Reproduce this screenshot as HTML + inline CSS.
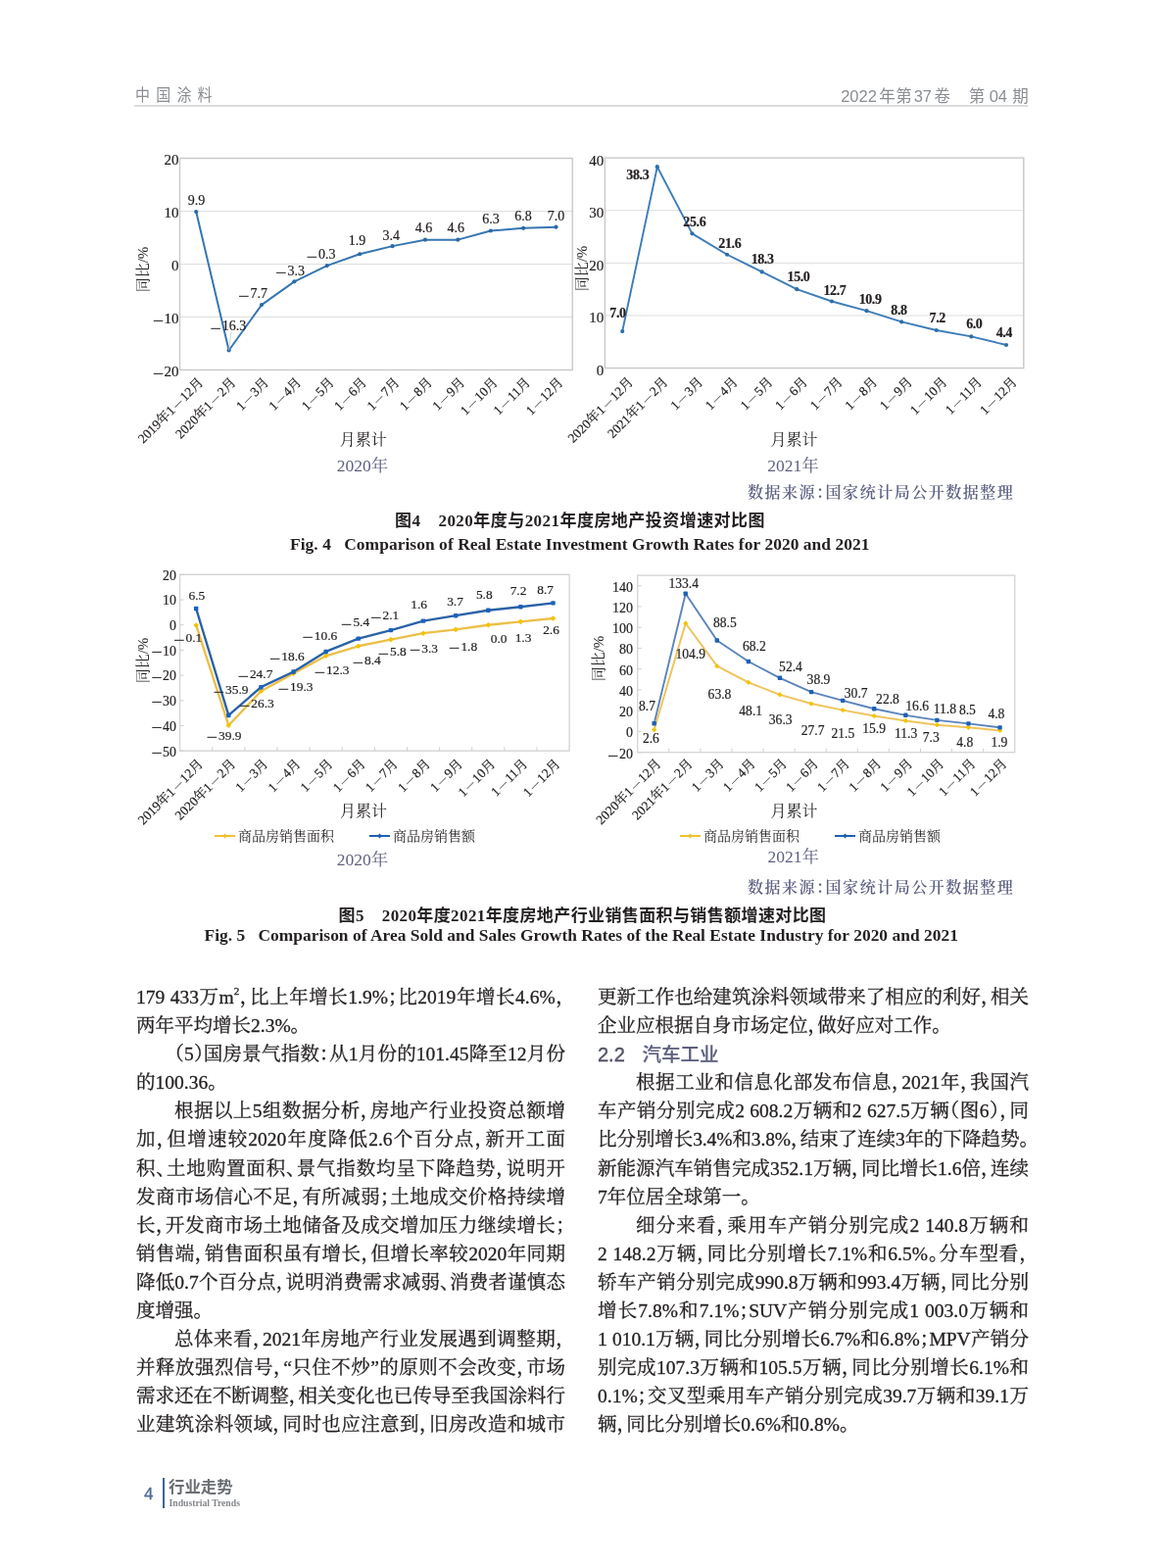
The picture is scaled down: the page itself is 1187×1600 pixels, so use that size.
<!DOCTYPE html>
<html lang="zh-CN"><head><meta charset="utf-8"><title>中国涂料 2022年第37卷 第04期</title>
<style>
html,body{margin:0;padding:0;background:#fff;}
body{width:1187px;height:1600px;position:relative;overflow:hidden;}
.abs{position:absolute;}
.hdr{font-family:'Liberation Sans','Noto Sans CJK SC',sans-serif;color:#8a8e93;white-space:nowrap;}
.hdr .d{font-family:'Liberation Sans',sans-serif;}
#hl{left:137px;top:107.4px;width:912px;height:1.7px;background:#dcdcdc;}
.cap1{font-family:'Liberation Serif','Noto Sans CJK SC',sans-serif;font-weight:bold;font-size:17px;color:#231f20;white-space:nowrap;}
.cap2{font-family:'Liberation Serif',serif;font-weight:bold;font-size:17.4px;color:#231f20;white-space:nowrap;transform:scaleY(0.94);transform-origin:0 70%;}
.src{font-family:'Liberation Serif','Noto Serif CJK SC',serif;font-size:16px;font-weight:600;color:#5f6282;white-space:nowrap;letter-spacing:1.52px;font-feature-settings:'halt';}
.col{position:absolute;top:1003px;width:438px;font-family:'Liberation Serif','Noto Serif CJK SC',serif;font-size:19.5px;line-height:29.1px;color:#231f20;font-feature-settings:'halt';-webkit-text-stroke:0.3px #231f20;}
.ln{height:29.1px;white-space:nowrap;overflow:visible;}
.ln.j{white-space:normal;}
.ln.j{text-align:justify;text-align-last:justify;}
.ln.i{text-indent:2em;}
.ln sup{font-size:11px;line-height:0;vertical-align:9px;}
.hd{font-family:'Liberation Sans','Noto Sans CJK SC',sans-serif;color:#5c5f7e;}
.hd .h{font-size:20px;position:relative;top:1px;}
.hd .h2{font-size:19.5px;font-weight:500;margin-left:17.6px;position:relative;top:0.7px;font-family:'Liberation Sans','Noto Sans CJK SC',sans-serif;-webkit-text-stroke:0.2px #5c5f7e;}
</style></head><body>
<div class="abs hdr" id="h1" style="left:138.3px;top:82.5px;font-size:17px;letter-spacing:7.1px;transform:scaleX(0.88);transform-origin:0 0;">中国涂料</div>
<div class="abs hdr" id="h2" style="left:858.2px;top:84.5px;font-size:16.5px;"><span class="d">2022</span><span style="margin-left:2.4px;letter-spacing:0.5px">年第</span><span class="d" style="margin-left:1.4px">37</span><span style="margin-left:2.4px">卷</span><span style="margin-left:18.8px">第</span><span class="d" style="margin-left:4.4px">04</span><span style="margin-left:5.3px">期</span></div>
<div id="hl" class="abs"></div>
<svg class="abs" style="left:0;top:0" width="1187" height="1000" viewBox="0 0 1187 1000">
<line x1="183.5" y1="215.5" x2="584.2" y2="215.5" stroke="#dedede" stroke-width="1"/>
<line x1="183.5" y1="269.5" x2="584.2" y2="269.5" stroke="#dedede" stroke-width="1"/>
<line x1="183.5" y1="323.5" x2="584.2" y2="323.5" stroke="#dedede" stroke-width="1"/>
<rect x="183.5" y="161.5" width="400.7" height="216" fill="none" stroke="#c8c8c8" stroke-width="1.4"/>
<text x="182.5" y="167.7" font-size="15" text-anchor="end" font-weight="normal" fill="#231f20" font-family="'Liberation Serif','Noto Serif CJK SC',serif" stroke="#231f20" stroke-width="0.2" >20</text>
<text x="182.5" y="221.7" font-size="15" text-anchor="end" font-weight="normal" fill="#231f20" font-family="'Liberation Serif','Noto Serif CJK SC',serif" stroke="#231f20" stroke-width="0.2" >10</text>
<text x="182.5" y="275.7" font-size="15" text-anchor="end" font-weight="normal" fill="#231f20" font-family="'Liberation Serif','Noto Serif CJK SC',serif" stroke="#231f20" stroke-width="0.2" >0</text>
<text x="182.5" y="329.7" font-size="15" text-anchor="end" font-weight="normal" fill="#231f20" font-family="'Liberation Serif','Noto Serif CJK SC',serif" stroke="#231f20" stroke-width="0.2" ><tspan font-size="20.5" dy="4.19" stroke="none">−</tspan><tspan dx="0.3" dy="-4.19">10</tspan></text>
<text x="182.5" y="383.7" font-size="15" text-anchor="end" font-weight="normal" fill="#231f20" font-family="'Liberation Serif','Noto Serif CJK SC',serif" stroke="#231f20" stroke-width="0.2" ><tspan font-size="20.5" dy="4.19" stroke="none">−</tspan><tspan dx="0.3" dy="-4.19">20</tspan></text>
<polyline points="200.2,216.04 233.59,357.52 266.98,311.08 300.37,287.32 333.76,271.12 367.15,259.24 400.55,251.14 433.94,244.66 467.33,244.66 500.72,235.48 534.11,232.78 567.5,231.7" fill="none" stroke="#3676b2" stroke-width="2.0" stroke-linejoin="round"/>
<circle cx="200.2" cy="216.04" r="2.1" fill="#2a6aa6"/>
<circle cx="233.59" cy="357.52" r="2.1" fill="#2a6aa6"/>
<circle cx="266.98" cy="311.08" r="2.1" fill="#2a6aa6"/>
<circle cx="300.37" cy="287.32" r="2.1" fill="#2a6aa6"/>
<circle cx="333.76" cy="271.12" r="2.1" fill="#2a6aa6"/>
<circle cx="367.15" cy="259.24" r="2.1" fill="#2a6aa6"/>
<circle cx="400.55" cy="251.14" r="2.1" fill="#2a6aa6"/>
<circle cx="433.94" cy="244.66" r="2.1" fill="#2a6aa6"/>
<circle cx="467.33" cy="244.66" r="2.1" fill="#2a6aa6"/>
<circle cx="500.72" cy="235.48" r="2.1" fill="#2a6aa6"/>
<circle cx="534.11" cy="232.78" r="2.1" fill="#2a6aa6"/>
<circle cx="567.5" cy="231.7" r="2.1" fill="#2a6aa6"/>
<text x="200.6" y="208.9" font-size="14" text-anchor="middle" font-weight="normal" fill="#231f20" font-family="'Liberation Serif','Noto Serif CJK SC',serif" stroke="#231f20" stroke-width="0.2" >9.9</text>
<text x="232.7" y="336.7" font-size="14" text-anchor="middle" font-weight="normal" fill="#231f20" font-family="'Liberation Serif','Noto Serif CJK SC',serif" stroke="#231f20" stroke-width="0.2" ><tspan font-size="20.75" dy="4.89" stroke="none">−</tspan><tspan dx="0.8" dy="-4.89">16.3</tspan></text>
<text x="257.9" y="303.8" font-size="14" text-anchor="middle" font-weight="normal" fill="#231f20" font-family="'Liberation Serif','Noto Serif CJK SC',serif" stroke="#231f20" stroke-width="0.2" ><tspan font-size="20.75" dy="4.89" stroke="none">−</tspan><tspan dx="0.8" dy="-4.89">7.7</tspan></text>
<text x="295.9" y="280.6" font-size="14" text-anchor="middle" font-weight="normal" fill="#231f20" font-family="'Liberation Serif','Noto Serif CJK SC',serif" stroke="#231f20" stroke-width="0.2" ><tspan font-size="20.75" dy="4.89" stroke="none">−</tspan><tspan dx="0.8" dy="-4.89">3.3</tspan></text>
<text x="327.6" y="263.9" font-size="14" text-anchor="middle" font-weight="normal" fill="#231f20" font-family="'Liberation Serif','Noto Serif CJK SC',serif" stroke="#231f20" stroke-width="0.2" ><tspan font-size="20.75" dy="4.89" stroke="none">−</tspan><tspan dx="0.8" dy="-4.89">0.3</tspan></text>
<text x="364.5" y="249.9" font-size="14" text-anchor="middle" font-weight="normal" fill="#231f20" font-family="'Liberation Serif','Noto Serif CJK SC',serif" stroke="#231f20" stroke-width="0.2" >1.9</text>
<text x="399.3" y="244.5" font-size="14" text-anchor="middle" font-weight="normal" fill="#231f20" font-family="'Liberation Serif','Noto Serif CJK SC',serif" stroke="#231f20" stroke-width="0.2" >3.4</text>
<text x="432.5" y="236.8" font-size="14" text-anchor="middle" font-weight="normal" fill="#231f20" font-family="'Liberation Serif','Noto Serif CJK SC',serif" stroke="#231f20" stroke-width="0.2" >4.6</text>
<text x="465.2" y="236.8" font-size="14" text-anchor="middle" font-weight="normal" fill="#231f20" font-family="'Liberation Serif','Noto Serif CJK SC',serif" stroke="#231f20" stroke-width="0.2" >4.6</text>
<text x="501" y="228.1" font-size="14" text-anchor="middle" font-weight="normal" fill="#231f20" font-family="'Liberation Serif','Noto Serif CJK SC',serif" stroke="#231f20" stroke-width="0.2" >6.3</text>
<text x="534" y="225.3" font-size="14" text-anchor="middle" font-weight="normal" fill="#231f20" font-family="'Liberation Serif','Noto Serif CJK SC',serif" stroke="#231f20" stroke-width="0.2" >6.8</text>
<text x="567.4" y="224.8" font-size="14" text-anchor="middle" font-weight="normal" fill="#231f20" font-family="'Liberation Serif','Noto Serif CJK SC',serif" stroke="#231f20" stroke-width="0.2" >7.0</text>
<line x1="233.59" y1="357.52" x2="236" y2="338" stroke="#c9c9c9" stroke-width="0.8"/>
<line x1="617.4" y1="214.72" x2="1044.8" y2="214.72" stroke="#dedede" stroke-width="1"/>
<line x1="617.4" y1="268.35" x2="1044.8" y2="268.35" stroke="#dedede" stroke-width="1"/>
<line x1="617.4" y1="321.98" x2="1044.8" y2="321.98" stroke="#dedede" stroke-width="1"/>
<rect x="617.4" y="161.1" width="427.4" height="214.5" fill="none" stroke="#c8c8c8" stroke-width="1.4"/>
<text x="616.3" y="168.5" font-size="15" text-anchor="end" font-weight="normal" fill="#231f20" font-family="'Liberation Serif','Noto Serif CJK SC',serif" stroke="#231f20" stroke-width="0.2" >40</text>
<text x="616.3" y="222.12" font-size="15" text-anchor="end" font-weight="normal" fill="#231f20" font-family="'Liberation Serif','Noto Serif CJK SC',serif" stroke="#231f20" stroke-width="0.2" >30</text>
<text x="616.3" y="275.75" font-size="15" text-anchor="end" font-weight="normal" fill="#231f20" font-family="'Liberation Serif','Noto Serif CJK SC',serif" stroke="#231f20" stroke-width="0.2" >20</text>
<text x="616.3" y="329.38" font-size="15" text-anchor="end" font-weight="normal" fill="#231f20" font-family="'Liberation Serif','Noto Serif CJK SC',serif" stroke="#231f20" stroke-width="0.2" >10</text>
<text x="616.3" y="383" font-size="15" text-anchor="end" font-weight="normal" fill="#231f20" font-family="'Liberation Serif','Noto Serif CJK SC',serif" stroke="#231f20" stroke-width="0.2" >0</text>
<polyline points="635.21,338.06 670.82,170.22 706.44,238.32 742.06,259.77 777.67,277.47 813.29,295.16 848.91,307.5 884.52,317.15 920.14,328.41 955.76,336.99 991.38,343.43 1026.99,352" fill="none" stroke="#3d7db9" stroke-width="1.9" stroke-linejoin="round"/>
<circle cx="635.21" cy="338.06" r="2.1" fill="#2f6ea8"/>
<circle cx="670.82" cy="170.22" r="2.1" fill="#2f6ea8"/>
<circle cx="706.44" cy="238.32" r="2.1" fill="#2f6ea8"/>
<circle cx="742.06" cy="259.77" r="2.1" fill="#2f6ea8"/>
<circle cx="777.67" cy="277.47" r="2.1" fill="#2f6ea8"/>
<circle cx="813.29" cy="295.16" r="2.1" fill="#2f6ea8"/>
<circle cx="848.91" cy="307.5" r="2.1" fill="#2f6ea8"/>
<circle cx="884.52" cy="317.15" r="2.1" fill="#2f6ea8"/>
<circle cx="920.14" cy="328.41" r="2.1" fill="#2f6ea8"/>
<circle cx="955.76" cy="336.99" r="2.1" fill="#2f6ea8"/>
<circle cx="991.38" cy="343.43" r="2.1" fill="#2f6ea8"/>
<circle cx="1026.99" cy="352" r="2.1" fill="#2f6ea8"/>
<text x="630.5" y="323.8" font-size="14" text-anchor="middle" font-weight="bold" fill="#231f20" font-family="'Liberation Serif','Noto Serif CJK SC',serif" stroke="#231f20" stroke-width="0.2" letter-spacing="-0.4">7.0</text>
<text x="650.8" y="182.7" font-size="14" text-anchor="middle" font-weight="bold" fill="#231f20" font-family="'Liberation Serif','Noto Serif CJK SC',serif" stroke="#231f20" stroke-width="0.2" letter-spacing="-0.4">38.3</text>
<text x="708.8" y="231.2" font-size="14" text-anchor="middle" font-weight="bold" fill="#231f20" font-family="'Liberation Serif','Noto Serif CJK SC',serif" stroke="#231f20" stroke-width="0.2" letter-spacing="-0.4">25.6</text>
<text x="744.8" y="252.5" font-size="14" text-anchor="middle" font-weight="bold" fill="#231f20" font-family="'Liberation Serif','Noto Serif CJK SC',serif" stroke="#231f20" stroke-width="0.2" letter-spacing="-0.4">21.6</text>
<text x="778.1" y="268.6" font-size="14" text-anchor="middle" font-weight="bold" fill="#231f20" font-family="'Liberation Serif','Noto Serif CJK SC',serif" stroke="#231f20" stroke-width="0.2" letter-spacing="-0.4">18.3</text>
<text x="815" y="286.9" font-size="14" text-anchor="middle" font-weight="bold" fill="#231f20" font-family="'Liberation Serif','Noto Serif CJK SC',serif" stroke="#231f20" stroke-width="0.2" letter-spacing="-0.4">15.0</text>
<text x="851.9" y="300.6" font-size="14" text-anchor="middle" font-weight="bold" fill="#231f20" font-family="'Liberation Serif','Noto Serif CJK SC',serif" stroke="#231f20" stroke-width="0.2" letter-spacing="-0.4">12.7</text>
<text x="888.1" y="309.7" font-size="14" text-anchor="middle" font-weight="bold" fill="#231f20" font-family="'Liberation Serif','Noto Serif CJK SC',serif" stroke="#231f20" stroke-width="0.2" letter-spacing="-0.4">10.9</text>
<text x="917.5" y="321.2" font-size="14" text-anchor="middle" font-weight="bold" fill="#231f20" font-family="'Liberation Serif','Noto Serif CJK SC',serif" stroke="#231f20" stroke-width="0.2" letter-spacing="-0.4">8.8</text>
<text x="956.7" y="329.3" font-size="14" text-anchor="middle" font-weight="bold" fill="#231f20" font-family="'Liberation Serif','Noto Serif CJK SC',serif" stroke="#231f20" stroke-width="0.2" letter-spacing="-0.4">7.2</text>
<text x="994.3" y="334.9" font-size="14" text-anchor="middle" font-weight="bold" fill="#231f20" font-family="'Liberation Serif','Noto Serif CJK SC',serif" stroke="#231f20" stroke-width="0.2" letter-spacing="-0.4">6.0</text>
<text x="1024.8" y="344" font-size="14" text-anchor="middle" font-weight="bold" fill="#231f20" font-family="'Liberation Serif','Noto Serif CJK SC',serif" stroke="#231f20" stroke-width="0.2" letter-spacing="-0.4">4.4</text>
<rect x="183.6" y="586.3" width="397.5" height="179.9" fill="none" stroke="#d6d6d6" stroke-width="1.4"/>
<line x1="216.72" y1="766.2" x2="216.72" y2="762.2" stroke="#d0d0d0" stroke-width="1"/>
<line x1="249.85" y1="766.2" x2="249.85" y2="762.2" stroke="#d0d0d0" stroke-width="1"/>
<line x1="282.98" y1="766.2" x2="282.98" y2="762.2" stroke="#d0d0d0" stroke-width="1"/>
<line x1="316.1" y1="766.2" x2="316.1" y2="762.2" stroke="#d0d0d0" stroke-width="1"/>
<line x1="349.23" y1="766.2" x2="349.23" y2="762.2" stroke="#d0d0d0" stroke-width="1"/>
<line x1="382.35" y1="766.2" x2="382.35" y2="762.2" stroke="#d0d0d0" stroke-width="1"/>
<line x1="415.48" y1="766.2" x2="415.48" y2="762.2" stroke="#d0d0d0" stroke-width="1"/>
<line x1="448.6" y1="766.2" x2="448.6" y2="762.2" stroke="#d0d0d0" stroke-width="1"/>
<line x1="481.73" y1="766.2" x2="481.73" y2="762.2" stroke="#d0d0d0" stroke-width="1"/>
<line x1="514.85" y1="766.2" x2="514.85" y2="762.2" stroke="#d0d0d0" stroke-width="1"/>
<line x1="547.98" y1="766.2" x2="547.98" y2="762.2" stroke="#d0d0d0" stroke-width="1"/>
<line x1="183.6" y1="586.3" x2="187.6" y2="586.3" stroke="#d0d0d0" stroke-width="1"/>
<line x1="183.6" y1="612" x2="187.6" y2="612" stroke="#d0d0d0" stroke-width="1"/>
<line x1="183.6" y1="637.7" x2="187.6" y2="637.7" stroke="#d0d0d0" stroke-width="1"/>
<line x1="183.6" y1="663.4" x2="187.6" y2="663.4" stroke="#d0d0d0" stroke-width="1"/>
<line x1="183.6" y1="689.1" x2="187.6" y2="689.1" stroke="#d0d0d0" stroke-width="1"/>
<line x1="183.6" y1="714.8" x2="187.6" y2="714.8" stroke="#d0d0d0" stroke-width="1"/>
<line x1="183.6" y1="740.5" x2="187.6" y2="740.5" stroke="#d0d0d0" stroke-width="1"/>
<line x1="183.6" y1="766.2" x2="187.6" y2="766.2" stroke="#d0d0d0" stroke-width="1"/>
<text x="179.8" y="591.6" font-size="13.8" text-anchor="end" font-weight="normal" fill="#231f20" font-family="'Liberation Serif','Noto Serif CJK SC',serif" stroke="#231f20" stroke-width="0.2" >20</text>
<text x="179.8" y="617.3" font-size="13.8" text-anchor="end" font-weight="normal" fill="#231f20" font-family="'Liberation Serif','Noto Serif CJK SC',serif" stroke="#231f20" stroke-width="0.2" >10</text>
<text x="179.8" y="643" font-size="13.8" text-anchor="end" font-weight="normal" fill="#231f20" font-family="'Liberation Serif','Noto Serif CJK SC',serif" stroke="#231f20" stroke-width="0.2" >0</text>
<text x="179.8" y="668.7" font-size="13.8" text-anchor="end" font-weight="normal" fill="#231f20" font-family="'Liberation Serif','Noto Serif CJK SC',serif" stroke="#231f20" stroke-width="0.2" ><tspan font-size="20.5" dy="3.39" stroke="none">−</tspan><tspan dx="0.3" dy="-3.39">10</tspan></text>
<text x="179.8" y="694.4" font-size="13.8" text-anchor="end" font-weight="normal" fill="#231f20" font-family="'Liberation Serif','Noto Serif CJK SC',serif" stroke="#231f20" stroke-width="0.2" ><tspan font-size="20.5" dy="3.39" stroke="none">−</tspan><tspan dx="0.3" dy="-3.39">20</tspan></text>
<text x="179.8" y="720.1" font-size="13.8" text-anchor="end" font-weight="normal" fill="#231f20" font-family="'Liberation Serif','Noto Serif CJK SC',serif" stroke="#231f20" stroke-width="0.2" ><tspan font-size="20.5" dy="3.39" stroke="none">−</tspan><tspan dx="0.3" dy="-3.39">30</tspan></text>
<text x="179.8" y="745.8" font-size="13.8" text-anchor="end" font-weight="normal" fill="#231f20" font-family="'Liberation Serif','Noto Serif CJK SC',serif" stroke="#231f20" stroke-width="0.2" ><tspan font-size="20.5" dy="3.39" stroke="none">−</tspan><tspan dx="0.3" dy="-3.39">40</tspan></text>
<text x="179.8" y="771.5" font-size="13.8" text-anchor="end" font-weight="normal" fill="#231f20" font-family="'Liberation Serif','Noto Serif CJK SC',serif" stroke="#231f20" stroke-width="0.2" ><tspan font-size="20.5" dy="3.39" stroke="none">−</tspan><tspan dx="0.3" dy="-3.39">50</tspan></text>
<polyline points="200.16,637.96 233.29,740.24 266.41,705.29 299.54,687.3 332.66,669.31 365.79,659.29 398.91,652.61 432.04,646.18 465.16,642.33 498.29,637.7 531.41,634.36 564.54,631.02" fill="none" stroke="#ebc04a" stroke-width="2.4" stroke-linejoin="round"/>
<path d="M200.16 635.16L202.96 637.96L200.16 640.76L197.36 637.96Z" fill="#f2c300"/>
<path d="M233.29 737.44L236.09 740.24L233.29 743.04L230.49 740.24Z" fill="#f2c300"/>
<path d="M266.41 702.49L269.21 705.29L266.41 708.09L263.61 705.29Z" fill="#f2c300"/>
<path d="M299.54 684.5L302.34 687.3L299.54 690.1L296.74 687.3Z" fill="#f2c300"/>
<path d="M332.66 666.51L335.46 669.31L332.66 672.11L329.86 669.31Z" fill="#f2c300"/>
<path d="M365.79 656.49L368.59 659.29L365.79 662.09L362.99 659.29Z" fill="#f2c300"/>
<path d="M398.91 649.81L401.71 652.61L398.91 655.41L396.11 652.61Z" fill="#f2c300"/>
<path d="M432.04 643.38L434.84 646.18L432.04 648.98L429.24 646.18Z" fill="#f2c300"/>
<path d="M465.16 639.53L467.96 642.33L465.16 645.13L462.36 642.33Z" fill="#f2c300"/>
<path d="M498.29 634.9L501.09 637.7L498.29 640.5L495.49 637.7Z" fill="#f2c300"/>
<path d="M531.41 631.56L534.21 634.36L531.41 637.16L528.61 634.36Z" fill="#f2c300"/>
<path d="M564.54 628.22L567.34 631.02L564.54 633.82L561.74 631.02Z" fill="#f2c300"/>
<polyline points="200.16,621 233.29,729.96 266.41,701.18 299.54,685.5 332.66,664.94 365.79,651.58 398.91,643.1 432.04,633.59 465.16,628.19 498.29,622.79 531.41,619.2 564.54,615.34" fill="none" stroke="#2a62a6" stroke-width="2.4" stroke-linejoin="round"/>
<rect x="197.96" y="618.79" width="4.4" height="4.4" rx="0.8" fill="#1a62bc"/>
<rect x="231.09" y="727.76" width="4.4" height="4.4" rx="0.8" fill="#1a62bc"/>
<rect x="264.21" y="698.98" width="4.4" height="4.4" rx="0.8" fill="#1a62bc"/>
<rect x="297.34" y="683.3" width="4.4" height="4.4" rx="0.8" fill="#1a62bc"/>
<rect x="330.46" y="662.74" width="4.4" height="4.4" rx="0.8" fill="#1a62bc"/>
<rect x="363.59" y="649.38" width="4.4" height="4.4" rx="0.8" fill="#1a62bc"/>
<rect x="396.71" y="640.9" width="4.4" height="4.4" rx="0.8" fill="#1a62bc"/>
<rect x="429.84" y="631.39" width="4.4" height="4.4" rx="0.8" fill="#1a62bc"/>
<rect x="462.96" y="625.99" width="4.4" height="4.4" rx="0.8" fill="#1a62bc"/>
<rect x="496.09" y="620.59" width="4.4" height="4.4" rx="0.8" fill="#1a62bc"/>
<rect x="529.21" y="617" width="4.4" height="4.4" rx="0.8" fill="#1a62bc"/>
<rect x="562.34" y="613.14" width="4.4" height="4.4" rx="0.8" fill="#1a62bc"/>
<text x="200.9" y="612.3" font-size="13.4" text-anchor="middle" font-weight="normal" fill="#231f20" font-family="'Liberation Serif','Noto Serif CJK SC',serif" stroke="#231f20" stroke-width="0.2" >6.5</text>
<text x="235.5" y="708.1" font-size="13.4" text-anchor="middle" font-weight="normal" fill="#231f20" font-family="'Liberation Serif','Noto Serif CJK SC',serif" stroke="#231f20" stroke-width="0.2" ><tspan font-size="20.75" dy="4.89" stroke="none">−</tspan><tspan dx="0.8" dy="-4.89">35.9</tspan></text>
<text x="260.4" y="691.9" font-size="13.4" text-anchor="middle" font-weight="normal" fill="#231f20" font-family="'Liberation Serif','Noto Serif CJK SC',serif" stroke="#231f20" stroke-width="0.2" ><tspan font-size="20.75" dy="4.89" stroke="none">−</tspan><tspan dx="0.8" dy="-4.89">24.7</tspan></text>
<text x="292.8" y="673.8" font-size="13.4" text-anchor="middle" font-weight="normal" fill="#231f20" font-family="'Liberation Serif','Noto Serif CJK SC',serif" stroke="#231f20" stroke-width="0.2" ><tspan font-size="20.75" dy="4.89" stroke="none">−</tspan><tspan dx="0.8" dy="-4.89">18.6</tspan></text>
<text x="326.3" y="652.6" font-size="13.4" text-anchor="middle" font-weight="normal" fill="#231f20" font-family="'Liberation Serif','Noto Serif CJK SC',serif" stroke="#231f20" stroke-width="0.2" ><tspan font-size="20.75" dy="4.89" stroke="none">−</tspan><tspan dx="0.8" dy="-4.89">10.6</tspan></text>
<text x="362.5" y="638.9" font-size="13.4" text-anchor="middle" font-weight="normal" fill="#231f20" font-family="'Liberation Serif','Noto Serif CJK SC',serif" stroke="#231f20" stroke-width="0.2" ><tspan font-size="20.75" dy="4.89" stroke="none">−</tspan><tspan dx="0.8" dy="-4.89">5.4</tspan></text>
<text x="392.7" y="632.1" font-size="13.4" text-anchor="middle" font-weight="normal" fill="#231f20" font-family="'Liberation Serif','Noto Serif CJK SC',serif" stroke="#231f20" stroke-width="0.2" ><tspan font-size="20.75" dy="4.89" stroke="none">−</tspan><tspan dx="0.8" dy="-4.89">2.1</tspan></text>
<text x="427.7" y="621.4" font-size="13.4" text-anchor="middle" font-weight="normal" fill="#231f20" font-family="'Liberation Serif','Noto Serif CJK SC',serif" stroke="#231f20" stroke-width="0.2" >1.6</text>
<text x="464.5" y="618.1" font-size="13.4" text-anchor="middle" font-weight="normal" fill="#231f20" font-family="'Liberation Serif','Noto Serif CJK SC',serif" stroke="#231f20" stroke-width="0.2" >3.7</text>
<text x="494.3" y="611.1" font-size="13.4" text-anchor="middle" font-weight="normal" fill="#231f20" font-family="'Liberation Serif','Noto Serif CJK SC',serif" stroke="#231f20" stroke-width="0.2" >5.8</text>
<text x="529" y="607.3" font-size="13.4" text-anchor="middle" font-weight="normal" fill="#231f20" font-family="'Liberation Serif','Noto Serif CJK SC',serif" stroke="#231f20" stroke-width="0.2" >7.2</text>
<text x="556.7" y="606" font-size="13.4" text-anchor="middle" font-weight="normal" fill="#231f20" font-family="'Liberation Serif','Noto Serif CJK SC',serif" stroke="#231f20" stroke-width="0.2" >8.7</text>
<text x="191.6" y="654.8" font-size="13.4" text-anchor="middle" font-weight="normal" fill="#231f20" font-family="'Liberation Serif','Noto Serif CJK SC',serif" stroke="#231f20" stroke-width="0.2" ><tspan font-size="20.75" dy="4.89" stroke="none">−</tspan><tspan dx="0.8" dy="-4.89">0.1</tspan></text>
<text x="228.5" y="754.5" font-size="13.4" text-anchor="middle" font-weight="normal" fill="#231f20" font-family="'Liberation Serif','Noto Serif CJK SC',serif" stroke="#231f20" stroke-width="0.2" ><tspan font-size="20.75" dy="4.89" stroke="none">−</tspan><tspan dx="0.8" dy="-4.89">39.9</tspan></text>
<text x="261.8" y="721.9" font-size="13.4" text-anchor="middle" font-weight="normal" fill="#231f20" font-family="'Liberation Serif','Noto Serif CJK SC',serif" stroke="#231f20" stroke-width="0.2" ><tspan font-size="20.75" dy="4.89" stroke="none">−</tspan><tspan dx="0.8" dy="-4.89">26.3</tspan></text>
<text x="301.5" y="705.2" font-size="13.4" text-anchor="middle" font-weight="normal" fill="#231f20" font-family="'Liberation Serif','Noto Serif CJK SC',serif" stroke="#231f20" stroke-width="0.2" ><tspan font-size="20.75" dy="4.89" stroke="none">−</tspan><tspan dx="0.8" dy="-4.89">19.3</tspan></text>
<text x="338.5" y="687.7" font-size="13.4" text-anchor="middle" font-weight="normal" fill="#231f20" font-family="'Liberation Serif','Noto Serif CJK SC',serif" stroke="#231f20" stroke-width="0.2" ><tspan font-size="20.75" dy="4.89" stroke="none">−</tspan><tspan dx="0.8" dy="-4.89">12.3</tspan></text>
<text x="374.1" y="678.1" font-size="13.4" text-anchor="middle" font-weight="normal" fill="#231f20" font-family="'Liberation Serif','Noto Serif CJK SC',serif" stroke="#231f20" stroke-width="0.2" ><tspan font-size="20.75" dy="4.89" stroke="none">−</tspan><tspan dx="0.8" dy="-4.89">8.4</tspan></text>
<text x="400.1" y="669.1" font-size="13.4" text-anchor="middle" font-weight="normal" fill="#231f20" font-family="'Liberation Serif','Noto Serif CJK SC',serif" stroke="#231f20" stroke-width="0.2" ><tspan font-size="20.75" dy="4.89" stroke="none">−</tspan><tspan dx="0.8" dy="-4.89">5.8</tspan></text>
<text x="432.4" y="665.6" font-size="13.4" text-anchor="middle" font-weight="normal" fill="#231f20" font-family="'Liberation Serif','Noto Serif CJK SC',serif" stroke="#231f20" stroke-width="0.2" ><tspan font-size="20.75" dy="4.89" stroke="none">−</tspan><tspan dx="0.8" dy="-4.89">3.3</tspan></text>
<text x="472.5" y="663.5" font-size="13.4" text-anchor="middle" font-weight="normal" fill="#231f20" font-family="'Liberation Serif','Noto Serif CJK SC',serif" stroke="#231f20" stroke-width="0.2" ><tspan font-size="20.75" dy="4.89" stroke="none">−</tspan><tspan dx="0.8" dy="-4.89">1.8</tspan></text>
<text x="509.2" y="656.4" font-size="13.4" text-anchor="middle" font-weight="normal" fill="#231f20" font-family="'Liberation Serif','Noto Serif CJK SC',serif" stroke="#231f20" stroke-width="0.2" >0.0</text>
<text x="534" y="654.5" font-size="13.4" text-anchor="middle" font-weight="normal" fill="#231f20" font-family="'Liberation Serif','Noto Serif CJK SC',serif" stroke="#231f20" stroke-width="0.2" >1.3</text>
<text x="562.5" y="646.8" font-size="13.4" text-anchor="middle" font-weight="normal" fill="#231f20" font-family="'Liberation Serif','Noto Serif CJK SC',serif" stroke="#231f20" stroke-width="0.2" >2.6</text>
<rect x="650.7" y="587.1" width="385" height="180.6" fill="none" stroke="#d6d6d6" stroke-width="1.4"/>
<line x1="682.78" y1="767.7" x2="682.78" y2="763.7" stroke="#d0d0d0" stroke-width="1"/>
<line x1="714.87" y1="767.7" x2="714.87" y2="763.7" stroke="#d0d0d0" stroke-width="1"/>
<line x1="746.95" y1="767.7" x2="746.95" y2="763.7" stroke="#d0d0d0" stroke-width="1"/>
<line x1="779.03" y1="767.7" x2="779.03" y2="763.7" stroke="#d0d0d0" stroke-width="1"/>
<line x1="811.12" y1="767.7" x2="811.12" y2="763.7" stroke="#d0d0d0" stroke-width="1"/>
<line x1="843.2" y1="767.7" x2="843.2" y2="763.7" stroke="#d0d0d0" stroke-width="1"/>
<line x1="875.28" y1="767.7" x2="875.28" y2="763.7" stroke="#d0d0d0" stroke-width="1"/>
<line x1="907.37" y1="767.7" x2="907.37" y2="763.7" stroke="#d0d0d0" stroke-width="1"/>
<line x1="939.45" y1="767.7" x2="939.45" y2="763.7" stroke="#d0d0d0" stroke-width="1"/>
<line x1="971.53" y1="767.7" x2="971.53" y2="763.7" stroke="#d0d0d0" stroke-width="1"/>
<line x1="1003.62" y1="767.7" x2="1003.62" y2="763.7" stroke="#d0d0d0" stroke-width="1"/>
<line x1="650.7" y1="597.72" x2="654.7" y2="597.72" stroke="#d0d0d0" stroke-width="1"/>
<line x1="650.7" y1="618.97" x2="654.7" y2="618.97" stroke="#d0d0d0" stroke-width="1"/>
<line x1="650.7" y1="640.22" x2="654.7" y2="640.22" stroke="#d0d0d0" stroke-width="1"/>
<line x1="650.7" y1="661.46" x2="654.7" y2="661.46" stroke="#d0d0d0" stroke-width="1"/>
<line x1="650.7" y1="682.71" x2="654.7" y2="682.71" stroke="#d0d0d0" stroke-width="1"/>
<line x1="650.7" y1="703.96" x2="654.7" y2="703.96" stroke="#d0d0d0" stroke-width="1"/>
<line x1="650.7" y1="725.21" x2="654.7" y2="725.21" stroke="#d0d0d0" stroke-width="1"/>
<line x1="650.7" y1="746.45" x2="654.7" y2="746.45" stroke="#d0d0d0" stroke-width="1"/>
<line x1="650.7" y1="767.7" x2="654.7" y2="767.7" stroke="#d0d0d0" stroke-width="1"/>
<text x="645.9" y="603.62" font-size="14" text-anchor="end" font-weight="normal" fill="#231f20" font-family="'Liberation Serif','Noto Serif CJK SC',serif" stroke="#231f20" stroke-width="0.2" >140</text>
<text x="645.9" y="624.87" font-size="14" text-anchor="end" font-weight="normal" fill="#231f20" font-family="'Liberation Serif','Noto Serif CJK SC',serif" stroke="#231f20" stroke-width="0.2" >120</text>
<text x="645.9" y="646.12" font-size="14" text-anchor="end" font-weight="normal" fill="#231f20" font-family="'Liberation Serif','Noto Serif CJK SC',serif" stroke="#231f20" stroke-width="0.2" >100</text>
<text x="645.9" y="667.36" font-size="14" text-anchor="end" font-weight="normal" fill="#231f20" font-family="'Liberation Serif','Noto Serif CJK SC',serif" stroke="#231f20" stroke-width="0.2" >80</text>
<text x="645.9" y="688.61" font-size="14" text-anchor="end" font-weight="normal" fill="#231f20" font-family="'Liberation Serif','Noto Serif CJK SC',serif" stroke="#231f20" stroke-width="0.2" >60</text>
<text x="645.9" y="709.86" font-size="14" text-anchor="end" font-weight="normal" fill="#231f20" font-family="'Liberation Serif','Noto Serif CJK SC',serif" stroke="#231f20" stroke-width="0.2" >40</text>
<text x="645.9" y="731.11" font-size="14" text-anchor="end" font-weight="normal" fill="#231f20" font-family="'Liberation Serif','Noto Serif CJK SC',serif" stroke="#231f20" stroke-width="0.2" >20</text>
<text x="645.9" y="752.35" font-size="14" text-anchor="end" font-weight="normal" fill="#231f20" font-family="'Liberation Serif','Noto Serif CJK SC',serif" stroke="#231f20" stroke-width="0.2" >0</text>
<text x="645.9" y="773.6" font-size="14" text-anchor="end" font-weight="normal" fill="#231f20" font-family="'Liberation Serif','Noto Serif CJK SC',serif" stroke="#231f20" stroke-width="0.2" ><tspan font-size="20.5" dy="4.19" stroke="none">−</tspan><tspan dx="0.3" dy="-4.19">20</tspan></text>
<polyline points="667.64,744.69 699.73,636.01 731.81,679.67 763.89,696.35 795.98,708.89 828.06,718.03 860.14,724.61 892.23,730.56 924.31,735.45 956.39,739.7 988.48,742.35 1020.56,745.43" fill="none" stroke="#eec45c" stroke-width="2.0" stroke-linejoin="round"/>
<path d="M667.64 742.09L670.24 744.69L667.64 747.29L665.04 744.69Z" fill="#f2c300"/>
<path d="M699.73 633.41L702.33 636.01L699.73 638.61L697.12 636.01Z" fill="#f2c300"/>
<path d="M731.81 677.07L734.41 679.67L731.81 682.27L729.21 679.67Z" fill="#f2c300"/>
<path d="M763.89 693.75L766.49 696.35L763.89 698.95L761.29 696.35Z" fill="#f2c300"/>
<path d="M795.98 706.29L798.58 708.89L795.98 711.49L793.38 708.89Z" fill="#f2c300"/>
<path d="M828.06 715.43L830.66 718.03L828.06 720.63L825.46 718.03Z" fill="#f2c300"/>
<path d="M860.14 722.01L862.74 724.61L860.14 727.21L857.54 724.61Z" fill="#f2c300"/>
<path d="M892.23 727.96L894.83 730.56L892.23 733.16L889.62 730.56Z" fill="#f2c300"/>
<path d="M924.31 732.85L926.91 735.45L924.31 738.05L921.71 735.45Z" fill="#f2c300"/>
<path d="M956.39 737.1L958.99 739.7L956.39 742.3L953.79 739.7Z" fill="#f2c300"/>
<path d="M988.48 739.75L991.08 742.35L988.48 744.95L985.88 742.35Z" fill="#f2c300"/>
<path d="M1020.56 742.83L1023.16 745.43L1020.56 748.03L1017.96 745.43Z" fill="#f2c300"/>
<polyline points="667.64,738.21 699.73,605.74 731.81,653.43 763.89,675 795.98,691.79 828.06,706.13 860.14,714.84 892.23,723.23 924.31,729.82 956.39,734.92 988.48,738.42 1020.56,742.35" fill="none" stroke="#5b84bd" stroke-width="1.9" stroke-linejoin="round"/>
<rect x="665.44" y="736.01" width="4.4" height="4.4" rx="0.8" fill="#1f62b0"/>
<rect x="697.52" y="603.54" width="4.4" height="4.4" rx="0.8" fill="#1f62b0"/>
<rect x="729.61" y="651.23" width="4.4" height="4.4" rx="0.8" fill="#1f62b0"/>
<rect x="761.69" y="672.8" width="4.4" height="4.4" rx="0.8" fill="#1f62b0"/>
<rect x="793.77" y="689.59" width="4.4" height="4.4" rx="0.8" fill="#1f62b0"/>
<rect x="825.86" y="703.93" width="4.4" height="4.4" rx="0.8" fill="#1f62b0"/>
<rect x="857.94" y="712.64" width="4.4" height="4.4" rx="0.8" fill="#1f62b0"/>
<rect x="890.02" y="721.03" width="4.4" height="4.4" rx="0.8" fill="#1f62b0"/>
<rect x="922.11" y="727.62" width="4.4" height="4.4" rx="0.8" fill="#1f62b0"/>
<rect x="954.19" y="732.72" width="4.4" height="4.4" rx="0.8" fill="#1f62b0"/>
<rect x="986.27" y="736.22" width="4.4" height="4.4" rx="0.8" fill="#1f62b0"/>
<rect x="1018.36" y="740.15" width="4.4" height="4.4" rx="0.8" fill="#1f62b0"/>
<text x="660.5" y="725.3" font-size="13.6" text-anchor="middle" font-weight="normal" fill="#231f20" font-family="'Liberation Serif','Noto Serif CJK SC',serif" stroke="#231f20" stroke-width="0.2" >8.7</text>
<text x="697.7" y="599.5" font-size="13.6" text-anchor="middle" font-weight="normal" fill="#231f20" font-family="'Liberation Serif','Noto Serif CJK SC',serif" stroke="#231f20" stroke-width="0.2" >133.4</text>
<text x="739.9" y="640.4" font-size="13.6" text-anchor="middle" font-weight="normal" fill="#231f20" font-family="'Liberation Serif','Noto Serif CJK SC',serif" stroke="#231f20" stroke-width="0.2" >88.5</text>
<text x="769.9" y="663.9" font-size="13.6" text-anchor="middle" font-weight="normal" fill="#231f20" font-family="'Liberation Serif','Noto Serif CJK SC',serif" stroke="#231f20" stroke-width="0.2" >68.2</text>
<text x="807" y="685.4" font-size="13.6" text-anchor="middle" font-weight="normal" fill="#231f20" font-family="'Liberation Serif','Noto Serif CJK SC',serif" stroke="#231f20" stroke-width="0.2" >52.4</text>
<text x="835.5" y="697.7" font-size="13.6" text-anchor="middle" font-weight="normal" fill="#231f20" font-family="'Liberation Serif','Noto Serif CJK SC',serif" stroke="#231f20" stroke-width="0.2" >38.9</text>
<text x="873.7" y="711.7" font-size="13.6" text-anchor="middle" font-weight="normal" fill="#231f20" font-family="'Liberation Serif','Noto Serif CJK SC',serif" stroke="#231f20" stroke-width="0.2" >30.7</text>
<text x="906" y="717.6" font-size="13.6" text-anchor="middle" font-weight="normal" fill="#231f20" font-family="'Liberation Serif','Noto Serif CJK SC',serif" stroke="#231f20" stroke-width="0.2" >22.8</text>
<text x="936.2" y="725" font-size="13.6" text-anchor="middle" font-weight="normal" fill="#231f20" font-family="'Liberation Serif','Noto Serif CJK SC',serif" stroke="#231f20" stroke-width="0.2" >16.6</text>
<text x="964.4" y="728.2" font-size="13.6" text-anchor="middle" font-weight="normal" fill="#231f20" font-family="'Liberation Serif','Noto Serif CJK SC',serif" stroke="#231f20" stroke-width="0.2" >11.8</text>
<text x="987.4" y="729" font-size="13.6" text-anchor="middle" font-weight="normal" fill="#231f20" font-family="'Liberation Serif','Noto Serif CJK SC',serif" stroke="#231f20" stroke-width="0.2" >8.5</text>
<text x="1016.9" y="732.9" font-size="13.6" text-anchor="middle" font-weight="normal" fill="#231f20" font-family="'Liberation Serif','Noto Serif CJK SC',serif" stroke="#231f20" stroke-width="0.2" >4.8</text>
<text x="664.4" y="757.9" font-size="13.6" text-anchor="middle" font-weight="normal" fill="#231f20" font-family="'Liberation Serif','Noto Serif CJK SC',serif" stroke="#231f20" stroke-width="0.2" >2.6</text>
<text x="704.8" y="672" font-size="13.6" text-anchor="middle" font-weight="normal" fill="#231f20" font-family="'Liberation Serif','Noto Serif CJK SC',serif" stroke="#231f20" stroke-width="0.2" >104.9</text>
<text x="734.5" y="713.4" font-size="13.6" text-anchor="middle" font-weight="normal" fill="#231f20" font-family="'Liberation Serif','Noto Serif CJK SC',serif" stroke="#231f20" stroke-width="0.2" >63.8</text>
<text x="766.2" y="730.2" font-size="13.6" text-anchor="middle" font-weight="normal" fill="#231f20" font-family="'Liberation Serif','Noto Serif CJK SC',serif" stroke="#231f20" stroke-width="0.2" >48.1</text>
<text x="796.7" y="739.2" font-size="13.6" text-anchor="middle" font-weight="normal" fill="#231f20" font-family="'Liberation Serif','Noto Serif CJK SC',serif" stroke="#231f20" stroke-width="0.2" >36.3</text>
<text x="829.6" y="749.6" font-size="13.6" text-anchor="middle" font-weight="normal" fill="#231f20" font-family="'Liberation Serif','Noto Serif CJK SC',serif" stroke="#231f20" stroke-width="0.2" >27.7</text>
<text x="860.4" y="752.7" font-size="13.6" text-anchor="middle" font-weight="normal" fill="#231f20" font-family="'Liberation Serif','Noto Serif CJK SC',serif" stroke="#231f20" stroke-width="0.2" >21.5</text>
<text x="892.1" y="747.6" font-size="13.6" text-anchor="middle" font-weight="normal" fill="#231f20" font-family="'Liberation Serif','Noto Serif CJK SC',serif" stroke="#231f20" stroke-width="0.2" >15.9</text>
<text x="924.6" y="752.8" font-size="13.6" text-anchor="middle" font-weight="normal" fill="#231f20" font-family="'Liberation Serif','Noto Serif CJK SC',serif" stroke="#231f20" stroke-width="0.2" >11.3</text>
<text x="950.3" y="756.8" font-size="13.6" text-anchor="middle" font-weight="normal" fill="#231f20" font-family="'Liberation Serif','Noto Serif CJK SC',serif" stroke="#231f20" stroke-width="0.2" >7.3</text>
<text x="984.8" y="761.6" font-size="13.6" text-anchor="middle" font-weight="normal" fill="#231f20" font-family="'Liberation Serif','Noto Serif CJK SC',serif" stroke="#231f20" stroke-width="0.2" >4.8</text>
<text x="1019.9" y="761.8" font-size="13.6" text-anchor="middle" font-weight="normal" fill="#231f20" font-family="'Liberation Serif','Noto Serif CJK SC',serif" stroke="#231f20" stroke-width="0.2" >1.9</text>
<text x="208.2" y="391" font-size="13.5" text-anchor="end" fill="#231f20" stroke="#231f20" stroke-width="0.2" font-family="'Liberation Serif','Noto Serif CJK SC',serif" transform="rotate(-45 208.2 391)">2019年1<tspan font-size="9" dx="2.2" dy="-1.4">—</tspan><tspan dx="2.2" dy="1.4">12月</tspan></text>
<text x="241.59" y="391" font-size="13.5" text-anchor="end" fill="#231f20" stroke="#231f20" stroke-width="0.2" font-family="'Liberation Serif','Noto Serif CJK SC',serif" transform="rotate(-45 241.59 391)">2020年1<tspan font-size="9" dx="2.2" dy="-1.4">—</tspan><tspan dx="2.2" dy="1.4">2月</tspan></text>
<text x="274.98" y="391" font-size="13.5" text-anchor="end" fill="#231f20" stroke="#231f20" stroke-width="0.2" font-family="'Liberation Serif','Noto Serif CJK SC',serif" transform="rotate(-45 274.98 391)">1<tspan font-size="9" dx="2.2" dy="-1.4">—</tspan><tspan dx="2.2" dy="1.4">3月</tspan></text>
<text x="308.37" y="391" font-size="13.5" text-anchor="end" fill="#231f20" stroke="#231f20" stroke-width="0.2" font-family="'Liberation Serif','Noto Serif CJK SC',serif" transform="rotate(-45 308.37 391)">1<tspan font-size="9" dx="2.2" dy="-1.4">—</tspan><tspan dx="2.2" dy="1.4">4月</tspan></text>
<text x="341.76" y="391" font-size="13.5" text-anchor="end" fill="#231f20" stroke="#231f20" stroke-width="0.2" font-family="'Liberation Serif','Noto Serif CJK SC',serif" transform="rotate(-45 341.76 391)">1<tspan font-size="9" dx="2.2" dy="-1.4">—</tspan><tspan dx="2.2" dy="1.4">5月</tspan></text>
<text x="375.15" y="391" font-size="13.5" text-anchor="end" fill="#231f20" stroke="#231f20" stroke-width="0.2" font-family="'Liberation Serif','Noto Serif CJK SC',serif" transform="rotate(-45 375.15 391)">1<tspan font-size="9" dx="2.2" dy="-1.4">—</tspan><tspan dx="2.2" dy="1.4">6月</tspan></text>
<text x="408.55" y="391" font-size="13.5" text-anchor="end" fill="#231f20" stroke="#231f20" stroke-width="0.2" font-family="'Liberation Serif','Noto Serif CJK SC',serif" transform="rotate(-45 408.55 391)">1<tspan font-size="9" dx="2.2" dy="-1.4">—</tspan><tspan dx="2.2" dy="1.4">7月</tspan></text>
<text x="441.94" y="391" font-size="13.5" text-anchor="end" fill="#231f20" stroke="#231f20" stroke-width="0.2" font-family="'Liberation Serif','Noto Serif CJK SC',serif" transform="rotate(-45 441.94 391)">1<tspan font-size="9" dx="2.2" dy="-1.4">—</tspan><tspan dx="2.2" dy="1.4">8月</tspan></text>
<text x="475.33" y="391" font-size="13.5" text-anchor="end" fill="#231f20" stroke="#231f20" stroke-width="0.2" font-family="'Liberation Serif','Noto Serif CJK SC',serif" transform="rotate(-45 475.33 391)">1<tspan font-size="9" dx="2.2" dy="-1.4">—</tspan><tspan dx="2.2" dy="1.4">9月</tspan></text>
<text x="508.72" y="391" font-size="13.5" text-anchor="end" fill="#231f20" stroke="#231f20" stroke-width="0.2" font-family="'Liberation Serif','Noto Serif CJK SC',serif" transform="rotate(-45 508.72 391)">1<tspan font-size="9" dx="2.2" dy="-1.4">—</tspan><tspan dx="2.2" dy="1.4">10月</tspan></text>
<text x="542.11" y="391" font-size="13.5" text-anchor="end" fill="#231f20" stroke="#231f20" stroke-width="0.2" font-family="'Liberation Serif','Noto Serif CJK SC',serif" transform="rotate(-45 542.11 391)">1<tspan font-size="9" dx="2.2" dy="-1.4">—</tspan><tspan dx="2.2" dy="1.4">11月</tspan></text>
<text x="575.5" y="391" font-size="13.5" text-anchor="end" fill="#231f20" stroke="#231f20" stroke-width="0.2" font-family="'Liberation Serif','Noto Serif CJK SC',serif" transform="rotate(-45 575.5 391)">1<tspan font-size="9" dx="2.2" dy="-1.4">—</tspan><tspan dx="2.2" dy="1.4">12月</tspan></text>
<text x="647.01" y="390.5" font-size="13.5" text-anchor="end" fill="#231f20" stroke="#231f20" stroke-width="0.2" font-family="'Liberation Serif','Noto Serif CJK SC',serif" transform="rotate(-45 647.01 390.5)">2020年1<tspan font-size="9" dx="2.2" dy="-1.4">—</tspan><tspan dx="2.2" dy="1.4">12月</tspan></text>
<text x="682.62" y="390.5" font-size="13.5" text-anchor="end" fill="#231f20" stroke="#231f20" stroke-width="0.2" font-family="'Liberation Serif','Noto Serif CJK SC',serif" transform="rotate(-45 682.62 390.5)">2021年1<tspan font-size="9" dx="2.2" dy="-1.4">—</tspan><tspan dx="2.2" dy="1.4">2月</tspan></text>
<text x="718.24" y="390.5" font-size="13.5" text-anchor="end" fill="#231f20" stroke="#231f20" stroke-width="0.2" font-family="'Liberation Serif','Noto Serif CJK SC',serif" transform="rotate(-45 718.24 390.5)">1<tspan font-size="9" dx="2.2" dy="-1.4">—</tspan><tspan dx="2.2" dy="1.4">3月</tspan></text>
<text x="753.86" y="390.5" font-size="13.5" text-anchor="end" fill="#231f20" stroke="#231f20" stroke-width="0.2" font-family="'Liberation Serif','Noto Serif CJK SC',serif" transform="rotate(-45 753.86 390.5)">1<tspan font-size="9" dx="2.2" dy="-1.4">—</tspan><tspan dx="2.2" dy="1.4">4月</tspan></text>
<text x="789.47" y="390.5" font-size="13.5" text-anchor="end" fill="#231f20" stroke="#231f20" stroke-width="0.2" font-family="'Liberation Serif','Noto Serif CJK SC',serif" transform="rotate(-45 789.47 390.5)">1<tspan font-size="9" dx="2.2" dy="-1.4">—</tspan><tspan dx="2.2" dy="1.4">5月</tspan></text>
<text x="825.09" y="390.5" font-size="13.5" text-anchor="end" fill="#231f20" stroke="#231f20" stroke-width="0.2" font-family="'Liberation Serif','Noto Serif CJK SC',serif" transform="rotate(-45 825.09 390.5)">1<tspan font-size="9" dx="2.2" dy="-1.4">—</tspan><tspan dx="2.2" dy="1.4">6月</tspan></text>
<text x="860.71" y="390.5" font-size="13.5" text-anchor="end" fill="#231f20" stroke="#231f20" stroke-width="0.2" font-family="'Liberation Serif','Noto Serif CJK SC',serif" transform="rotate(-45 860.71 390.5)">1<tspan font-size="9" dx="2.2" dy="-1.4">—</tspan><tspan dx="2.2" dy="1.4">7月</tspan></text>
<text x="896.32" y="390.5" font-size="13.5" text-anchor="end" fill="#231f20" stroke="#231f20" stroke-width="0.2" font-family="'Liberation Serif','Noto Serif CJK SC',serif" transform="rotate(-45 896.32 390.5)">1<tspan font-size="9" dx="2.2" dy="-1.4">—</tspan><tspan dx="2.2" dy="1.4">8月</tspan></text>
<text x="931.94" y="390.5" font-size="13.5" text-anchor="end" fill="#231f20" stroke="#231f20" stroke-width="0.2" font-family="'Liberation Serif','Noto Serif CJK SC',serif" transform="rotate(-45 931.94 390.5)">1<tspan font-size="9" dx="2.2" dy="-1.4">—</tspan><tspan dx="2.2" dy="1.4">9月</tspan></text>
<text x="967.56" y="390.5" font-size="13.5" text-anchor="end" fill="#231f20" stroke="#231f20" stroke-width="0.2" font-family="'Liberation Serif','Noto Serif CJK SC',serif" transform="rotate(-45 967.56 390.5)">1<tspan font-size="9" dx="2.2" dy="-1.4">—</tspan><tspan dx="2.2" dy="1.4">10月</tspan></text>
<text x="1003.17" y="390.5" font-size="13.5" text-anchor="end" fill="#231f20" stroke="#231f20" stroke-width="0.2" font-family="'Liberation Serif','Noto Serif CJK SC',serif" transform="rotate(-45 1003.17 390.5)">1<tspan font-size="9" dx="2.2" dy="-1.4">—</tspan><tspan dx="2.2" dy="1.4">11月</tspan></text>
<text x="1038.79" y="390.5" font-size="13.5" text-anchor="end" fill="#231f20" stroke="#231f20" stroke-width="0.2" font-family="'Liberation Serif','Noto Serif CJK SC',serif" transform="rotate(-45 1038.79 390.5)">1<tspan font-size="9" dx="2.2" dy="-1.4">—</tspan><tspan dx="2.2" dy="1.4">12月</tspan></text>
<text x="208.16" y="780.3" font-size="13.5" text-anchor="end" fill="#231f20" stroke="#231f20" stroke-width="0.2" font-family="'Liberation Serif','Noto Serif CJK SC',serif" transform="rotate(-45 208.16 780.3)">2019年1<tspan font-size="9" dx="2.2" dy="-1.4">—</tspan><tspan dx="2.2" dy="1.4">12月</tspan></text>
<text x="241.29" y="780.3" font-size="13.5" text-anchor="end" fill="#231f20" stroke="#231f20" stroke-width="0.2" font-family="'Liberation Serif','Noto Serif CJK SC',serif" transform="rotate(-45 241.29 780.3)">2020年1<tspan font-size="9" dx="2.2" dy="-1.4">—</tspan><tspan dx="2.2" dy="1.4">2月</tspan></text>
<text x="274.41" y="780.3" font-size="13.5" text-anchor="end" fill="#231f20" stroke="#231f20" stroke-width="0.2" font-family="'Liberation Serif','Noto Serif CJK SC',serif" transform="rotate(-45 274.41 780.3)">1<tspan font-size="9" dx="2.2" dy="-1.4">—</tspan><tspan dx="2.2" dy="1.4">3月</tspan></text>
<text x="307.54" y="780.3" font-size="13.5" text-anchor="end" fill="#231f20" stroke="#231f20" stroke-width="0.2" font-family="'Liberation Serif','Noto Serif CJK SC',serif" transform="rotate(-45 307.54 780.3)">1<tspan font-size="9" dx="2.2" dy="-1.4">—</tspan><tspan dx="2.2" dy="1.4">4月</tspan></text>
<text x="340.66" y="780.3" font-size="13.5" text-anchor="end" fill="#231f20" stroke="#231f20" stroke-width="0.2" font-family="'Liberation Serif','Noto Serif CJK SC',serif" transform="rotate(-45 340.66 780.3)">1<tspan font-size="9" dx="2.2" dy="-1.4">—</tspan><tspan dx="2.2" dy="1.4">5月</tspan></text>
<text x="373.79" y="780.3" font-size="13.5" text-anchor="end" fill="#231f20" stroke="#231f20" stroke-width="0.2" font-family="'Liberation Serif','Noto Serif CJK SC',serif" transform="rotate(-45 373.79 780.3)">1<tspan font-size="9" dx="2.2" dy="-1.4">—</tspan><tspan dx="2.2" dy="1.4">6月</tspan></text>
<text x="406.91" y="780.3" font-size="13.5" text-anchor="end" fill="#231f20" stroke="#231f20" stroke-width="0.2" font-family="'Liberation Serif','Noto Serif CJK SC',serif" transform="rotate(-45 406.91 780.3)">1<tspan font-size="9" dx="2.2" dy="-1.4">—</tspan><tspan dx="2.2" dy="1.4">7月</tspan></text>
<text x="440.04" y="780.3" font-size="13.5" text-anchor="end" fill="#231f20" stroke="#231f20" stroke-width="0.2" font-family="'Liberation Serif','Noto Serif CJK SC',serif" transform="rotate(-45 440.04 780.3)">1<tspan font-size="9" dx="2.2" dy="-1.4">—</tspan><tspan dx="2.2" dy="1.4">8月</tspan></text>
<text x="473.16" y="780.3" font-size="13.5" text-anchor="end" fill="#231f20" stroke="#231f20" stroke-width="0.2" font-family="'Liberation Serif','Noto Serif CJK SC',serif" transform="rotate(-45 473.16 780.3)">1<tspan font-size="9" dx="2.2" dy="-1.4">—</tspan><tspan dx="2.2" dy="1.4">9月</tspan></text>
<text x="506.29" y="780.3" font-size="13.5" text-anchor="end" fill="#231f20" stroke="#231f20" stroke-width="0.2" font-family="'Liberation Serif','Noto Serif CJK SC',serif" transform="rotate(-45 506.29 780.3)">1<tspan font-size="9" dx="2.2" dy="-1.4">—</tspan><tspan dx="2.2" dy="1.4">10月</tspan></text>
<text x="539.41" y="780.3" font-size="13.5" text-anchor="end" fill="#231f20" stroke="#231f20" stroke-width="0.2" font-family="'Liberation Serif','Noto Serif CJK SC',serif" transform="rotate(-45 539.41 780.3)">1<tspan font-size="9" dx="2.2" dy="-1.4">—</tspan><tspan dx="2.2" dy="1.4">11月</tspan></text>
<text x="572.54" y="780.3" font-size="13.5" text-anchor="end" fill="#231f20" stroke="#231f20" stroke-width="0.2" font-family="'Liberation Serif','Noto Serif CJK SC',serif" transform="rotate(-45 572.54 780.3)">1<tspan font-size="9" dx="2.2" dy="-1.4">—</tspan><tspan dx="2.2" dy="1.4">12月</tspan></text>
<text x="675.64" y="780" font-size="13.5" text-anchor="end" fill="#231f20" stroke="#231f20" stroke-width="0.2" font-family="'Liberation Serif','Noto Serif CJK SC',serif" transform="rotate(-45 675.64 780)">2020年1<tspan font-size="9" dx="2.2" dy="-1.4">—</tspan><tspan dx="2.2" dy="1.4">12月</tspan></text>
<text x="707.73" y="780" font-size="13.5" text-anchor="end" fill="#231f20" stroke="#231f20" stroke-width="0.2" font-family="'Liberation Serif','Noto Serif CJK SC',serif" transform="rotate(-45 707.73 780)">2021年1<tspan font-size="9" dx="2.2" dy="-1.4">—</tspan><tspan dx="2.2" dy="1.4">2月</tspan></text>
<text x="739.81" y="780" font-size="13.5" text-anchor="end" fill="#231f20" stroke="#231f20" stroke-width="0.2" font-family="'Liberation Serif','Noto Serif CJK SC',serif" transform="rotate(-45 739.81 780)">1<tspan font-size="9" dx="2.2" dy="-1.4">—</tspan><tspan dx="2.2" dy="1.4">3月</tspan></text>
<text x="771.89" y="780" font-size="13.5" text-anchor="end" fill="#231f20" stroke="#231f20" stroke-width="0.2" font-family="'Liberation Serif','Noto Serif CJK SC',serif" transform="rotate(-45 771.89 780)">1<tspan font-size="9" dx="2.2" dy="-1.4">—</tspan><tspan dx="2.2" dy="1.4">4月</tspan></text>
<text x="803.98" y="780" font-size="13.5" text-anchor="end" fill="#231f20" stroke="#231f20" stroke-width="0.2" font-family="'Liberation Serif','Noto Serif CJK SC',serif" transform="rotate(-45 803.98 780)">1<tspan font-size="9" dx="2.2" dy="-1.4">—</tspan><tspan dx="2.2" dy="1.4">5月</tspan></text>
<text x="836.06" y="780" font-size="13.5" text-anchor="end" fill="#231f20" stroke="#231f20" stroke-width="0.2" font-family="'Liberation Serif','Noto Serif CJK SC',serif" transform="rotate(-45 836.06 780)">1<tspan font-size="9" dx="2.2" dy="-1.4">—</tspan><tspan dx="2.2" dy="1.4">6月</tspan></text>
<text x="868.14" y="780" font-size="13.5" text-anchor="end" fill="#231f20" stroke="#231f20" stroke-width="0.2" font-family="'Liberation Serif','Noto Serif CJK SC',serif" transform="rotate(-45 868.14 780)">1<tspan font-size="9" dx="2.2" dy="-1.4">—</tspan><tspan dx="2.2" dy="1.4">7月</tspan></text>
<text x="900.23" y="780" font-size="13.5" text-anchor="end" fill="#231f20" stroke="#231f20" stroke-width="0.2" font-family="'Liberation Serif','Noto Serif CJK SC',serif" transform="rotate(-45 900.23 780)">1<tspan font-size="9" dx="2.2" dy="-1.4">—</tspan><tspan dx="2.2" dy="1.4">8月</tspan></text>
<text x="932.31" y="780" font-size="13.5" text-anchor="end" fill="#231f20" stroke="#231f20" stroke-width="0.2" font-family="'Liberation Serif','Noto Serif CJK SC',serif" transform="rotate(-45 932.31 780)">1<tspan font-size="9" dx="2.2" dy="-1.4">—</tspan><tspan dx="2.2" dy="1.4">9月</tspan></text>
<text x="964.39" y="780" font-size="13.5" text-anchor="end" fill="#231f20" stroke="#231f20" stroke-width="0.2" font-family="'Liberation Serif','Noto Serif CJK SC',serif" transform="rotate(-45 964.39 780)">1<tspan font-size="9" dx="2.2" dy="-1.4">—</tspan><tspan dx="2.2" dy="1.4">10月</tspan></text>
<text x="996.48" y="780" font-size="13.5" text-anchor="end" fill="#231f20" stroke="#231f20" stroke-width="0.2" font-family="'Liberation Serif','Noto Serif CJK SC',serif" transform="rotate(-45 996.48 780)">1<tspan font-size="9" dx="2.2" dy="-1.4">—</tspan><tspan dx="2.2" dy="1.4">11月</tspan></text>
<text x="1028.56" y="780" font-size="13.5" text-anchor="end" fill="#231f20" stroke="#231f20" stroke-width="0.2" font-family="'Liberation Serif','Noto Serif CJK SC',serif" transform="rotate(-45 1028.56 780)">1<tspan font-size="9" dx="2.2" dy="-1.4">—</tspan><tspan dx="2.2" dy="1.4">12月</tspan></text>
<text x="151.2" y="275" font-size="15" text-anchor="middle" fill="#231f20" font-family="'Liberation Serif','Noto Serif CJK SC',serif" transform="rotate(-90 151.2 275)">同比/%</text>
<text x="599.2" y="274" font-size="15" text-anchor="middle" fill="#231f20" font-family="'Liberation Serif','Noto Serif CJK SC',serif" transform="rotate(-90 599.2 274)">同比/%</text>
<text x="151.2" y="674" font-size="15" text-anchor="middle" fill="#231f20" font-family="'Liberation Serif','Noto Serif CJK SC',serif" transform="rotate(-90 151.2 674)">同比/%</text>
<text x="616.2" y="672" font-size="15" text-anchor="middle" fill="#231f20" font-family="'Liberation Serif','Noto Serif CJK SC',serif" transform="rotate(-90 616.2 672)">同比/%</text>
<text x="370.7" y="454" font-size="16" text-anchor="middle" font-weight="normal" fill="#231f20" font-family="'Liberation Serif','Noto Serif CJK SC',serif" >月累计</text>
<text x="810.6" y="454" font-size="16" text-anchor="middle" font-weight="normal" fill="#231f20" font-family="'Liberation Serif','Noto Serif CJK SC',serif" >月累计</text>
<text x="371" y="833" font-size="16" text-anchor="middle" font-weight="normal" fill="#231f20" font-family="'Liberation Serif','Noto Serif CJK SC',serif" >月累计</text>
<text x="810.6" y="833" font-size="16" text-anchor="middle" font-weight="normal" fill="#231f20" font-family="'Liberation Serif','Noto Serif CJK SC',serif" >月累计</text>
<text x="370.1" y="481" font-size="17.5" text-anchor="middle" font-weight="normal" fill="#5e6082" font-family="'Liberation Serif','Noto Serif CJK SC',serif" >2020年</text>
<text x="809.6" y="481" font-size="17.5" text-anchor="middle" font-weight="normal" fill="#5e6082" font-family="'Liberation Serif','Noto Serif CJK SC',serif" >2021年</text>
<text x="370.1" y="883" font-size="17.5" text-anchor="middle" font-weight="normal" fill="#5e6082" font-family="'Liberation Serif','Noto Serif CJK SC',serif" >2020年</text>
<text x="809.8" y="880" font-size="17.5" text-anchor="middle" font-weight="normal" fill="#5e6082" font-family="'Liberation Serif','Noto Serif CJK SC',serif" >2021年</text>
<line x1="219" y1="853" x2="240" y2="853" stroke="#f2c12e" stroke-width="2"/>
<path d="M229.5 850.5L232 853L229.5 855.5L227 853Z" fill="#f2c12e"/>
<text x="243" y="858" font-size="14" text-anchor="start" font-weight="normal" fill="#231f20" font-family="'Liberation Serif','Noto Serif CJK SC',serif" >商品房销售面积</text>
<line x1="377" y1="853" x2="398" y2="853" stroke="#1f5faf" stroke-width="2"/>
<path d="M387.5 850.5L390 853L387.5 855.5L385 853Z" fill="#1f5faf"/>
<text x="401" y="858" font-size="14" text-anchor="start" font-weight="normal" fill="#231f20" font-family="'Liberation Serif','Noto Serif CJK SC',serif" >商品房销售额</text>
<line x1="694" y1="853" x2="715" y2="853" stroke="#f2c12e" stroke-width="2"/>
<path d="M704.5 850.5L707 853L704.5 855.5L702 853Z" fill="#f2c12e"/>
<text x="718" y="858" font-size="14" text-anchor="start" font-weight="normal" fill="#231f20" font-family="'Liberation Serif','Noto Serif CJK SC',serif" >商品房销售面积</text>
<line x1="852" y1="853" x2="873" y2="853" stroke="#1f5faf" stroke-width="2"/>
<path d="M862.5 850.5L865 853L862.5 855.5L860 853Z" fill="#1f5faf"/>
<text x="876" y="858" font-size="14" text-anchor="start" font-weight="normal" fill="#231f20" font-family="'Liberation Serif','Noto Serif CJK SC',serif" >商品房销售额</text>
</svg>
<div class="abs src" id="s1" style="left:763px;top:489.8px;">数据来源：国家统计局公开数据整理</div>
<div class="abs cap1" id="c41" style="left:403px;top:517px;letter-spacing:0.46px;">图4<span style="margin-left:18px">2020年度与2021年度房地产投资增速对比图</span></div>
<div class="abs cap2" id="c42" style="left:296px;top:545px;letter-spacing:0.07px;">Fig. 4&nbsp;&nbsp; Comparison of Real Estate Investment Growth Rates for 2020 and 2021</div>
<div class="abs src" id="s2" style="left:763px;top:893px;">数据来源：国家统计局公开数据整理</div>
<div class="abs cap1" id="c51" style="left:345.5px;top:920px;letter-spacing:0.39px;">图5<span style="margin-left:18px">2020年度2021年度房地产行业销售面积与销售额增速对比图</span></div>
<div class="abs cap2" id="c52" style="left:208.5px;top:944.4px;letter-spacing:0.037px;">Fig. 5&nbsp;&nbsp; Comparison of Area Sold and Sales Growth Rates of the Real Estate Industry for 2020 and 2021</div>
<div class="col" style="left:139px;">
<div class="ln j">179 433万m<sup>2</sup>，比上年增长1.9%；比2019年增长4.6%，</div>
<div class="ln">两年平均增长2.3%。</div>
<div class="ln j i">（5）国房景气指数：从1月份的101.45降至12月份</div>
<div class="ln">的100.36。</div>
<div class="ln j i">根据以上5组数据分析，房地产行业投资总额增</div>
<div class="ln j">加，但增速较2020年度降低2.6个百分点，新开工面</div>
<div class="ln j">积、土地购置面积、景气指数均呈下降趋势，说明开</div>
<div class="ln j">发商市场信心不足，有所减弱；土地成交价格持续增</div>
<div class="ln j">长，开发商市场土地储备及成交增加压力继续增长；</div>
<div class="ln j">销售端，销售面积虽有增长，但增长率较2020年同期</div>
<div class="ln j">降低0.7个百分点，说明消费需求减弱、消费者谨慎态</div>
<div class="ln">度增强。</div>
<div class="ln j i">总体来看，2021年房地产行业发展遇到调整期，</div>
<div class="ln j">并释放强烈信号，“只住不炒”的原则不会改变，市场</div>
<div class="ln j"><span style="letter-spacing:-0.08px">需求还在不断调整，相关变化也已传导至我国涂料行</span></div>
<div class="ln j">业建筑涂料领域，同时也应注意到，旧房改造和城市</div>
</div>
<div class="col" style="left:610px;width:440px;">
<div class="ln j">更新工作也给建筑涂料领域带来了相应的利好，相关</div>
<div class="ln">企业应根据自身市场定位，做好应对工作。</div>
<div class="ln hd"><span class="h">2.2</span><span class="h2">汽车工业</span></div>
<div class="ln j i">根据工业和信息化部发布信息，2021年，我国汽</div>
<div class="ln j">车产销分别完成2 608.2万辆和2 627.5万辆（图6），同</div>
<div class="ln j"><span style="letter-spacing:-0.15px">比分别增长3.4%和3.8%，结束了连续3年的下降趋势。</span></div>
<div class="ln j">新能源汽车销售完成352.1万辆，同比增长1.6倍，连续</div>
<div class="ln">7年位居全球第一。</div>
<div class="ln j i">细分来看，乘用车产销分别完成2 140.8万辆和</div>
<div class="ln j">2 148.2万辆，同比分别增长7.1%和6.5%。分车型看，</div>
<div class="ln j">轿车产销分别完成990.8万辆和993.4万辆，同比分别</div>
<div class="ln j">增长7.8%和7.1%；SUV产销分别完成1 003.0万辆和</div>
<div class="ln j">1 010.1万辆，同比分别增长6.7%和6.8%；MPV产销分</div>
<div class="ln j">别完成107.3万辆和105.5万辆，同比分别增长6.1%和</div>
<div class="ln j">0.1%；交叉型乘用车产销分别完成39.7万辆和39.1万</div>
<div class="ln">辆，同比分别增长0.6%和0.8%。</div>
</div>
<div class="abs" style="left:147px;top:1515.2px;font-family:'Liberation Sans','Noto Sans CJK SC',sans-serif;font-size:17px;color:#4a6a9a;-webkit-text-stroke:0.3px #4a6a9a;">4</div>
<div class="abs" style="left:166px;top:1507.7px;width:2px;height:31px;background:#3f6494;"></div>
<div class="abs" style="left:172px;top:1504px;font-family:'Liberation Sans','Noto Sans CJK SC',sans-serif;font-size:16.4px;color:#6a6e73;font-weight:bold;white-space:nowrap;">行业走势</div>
<div class="abs" style="left:172.5px;top:1527.8px;font-family:'Liberation Serif',serif;font-size:9.7px;color:#85888c;font-weight:bold;white-space:nowrap;">Industrial Trends</div>
</body></html>
